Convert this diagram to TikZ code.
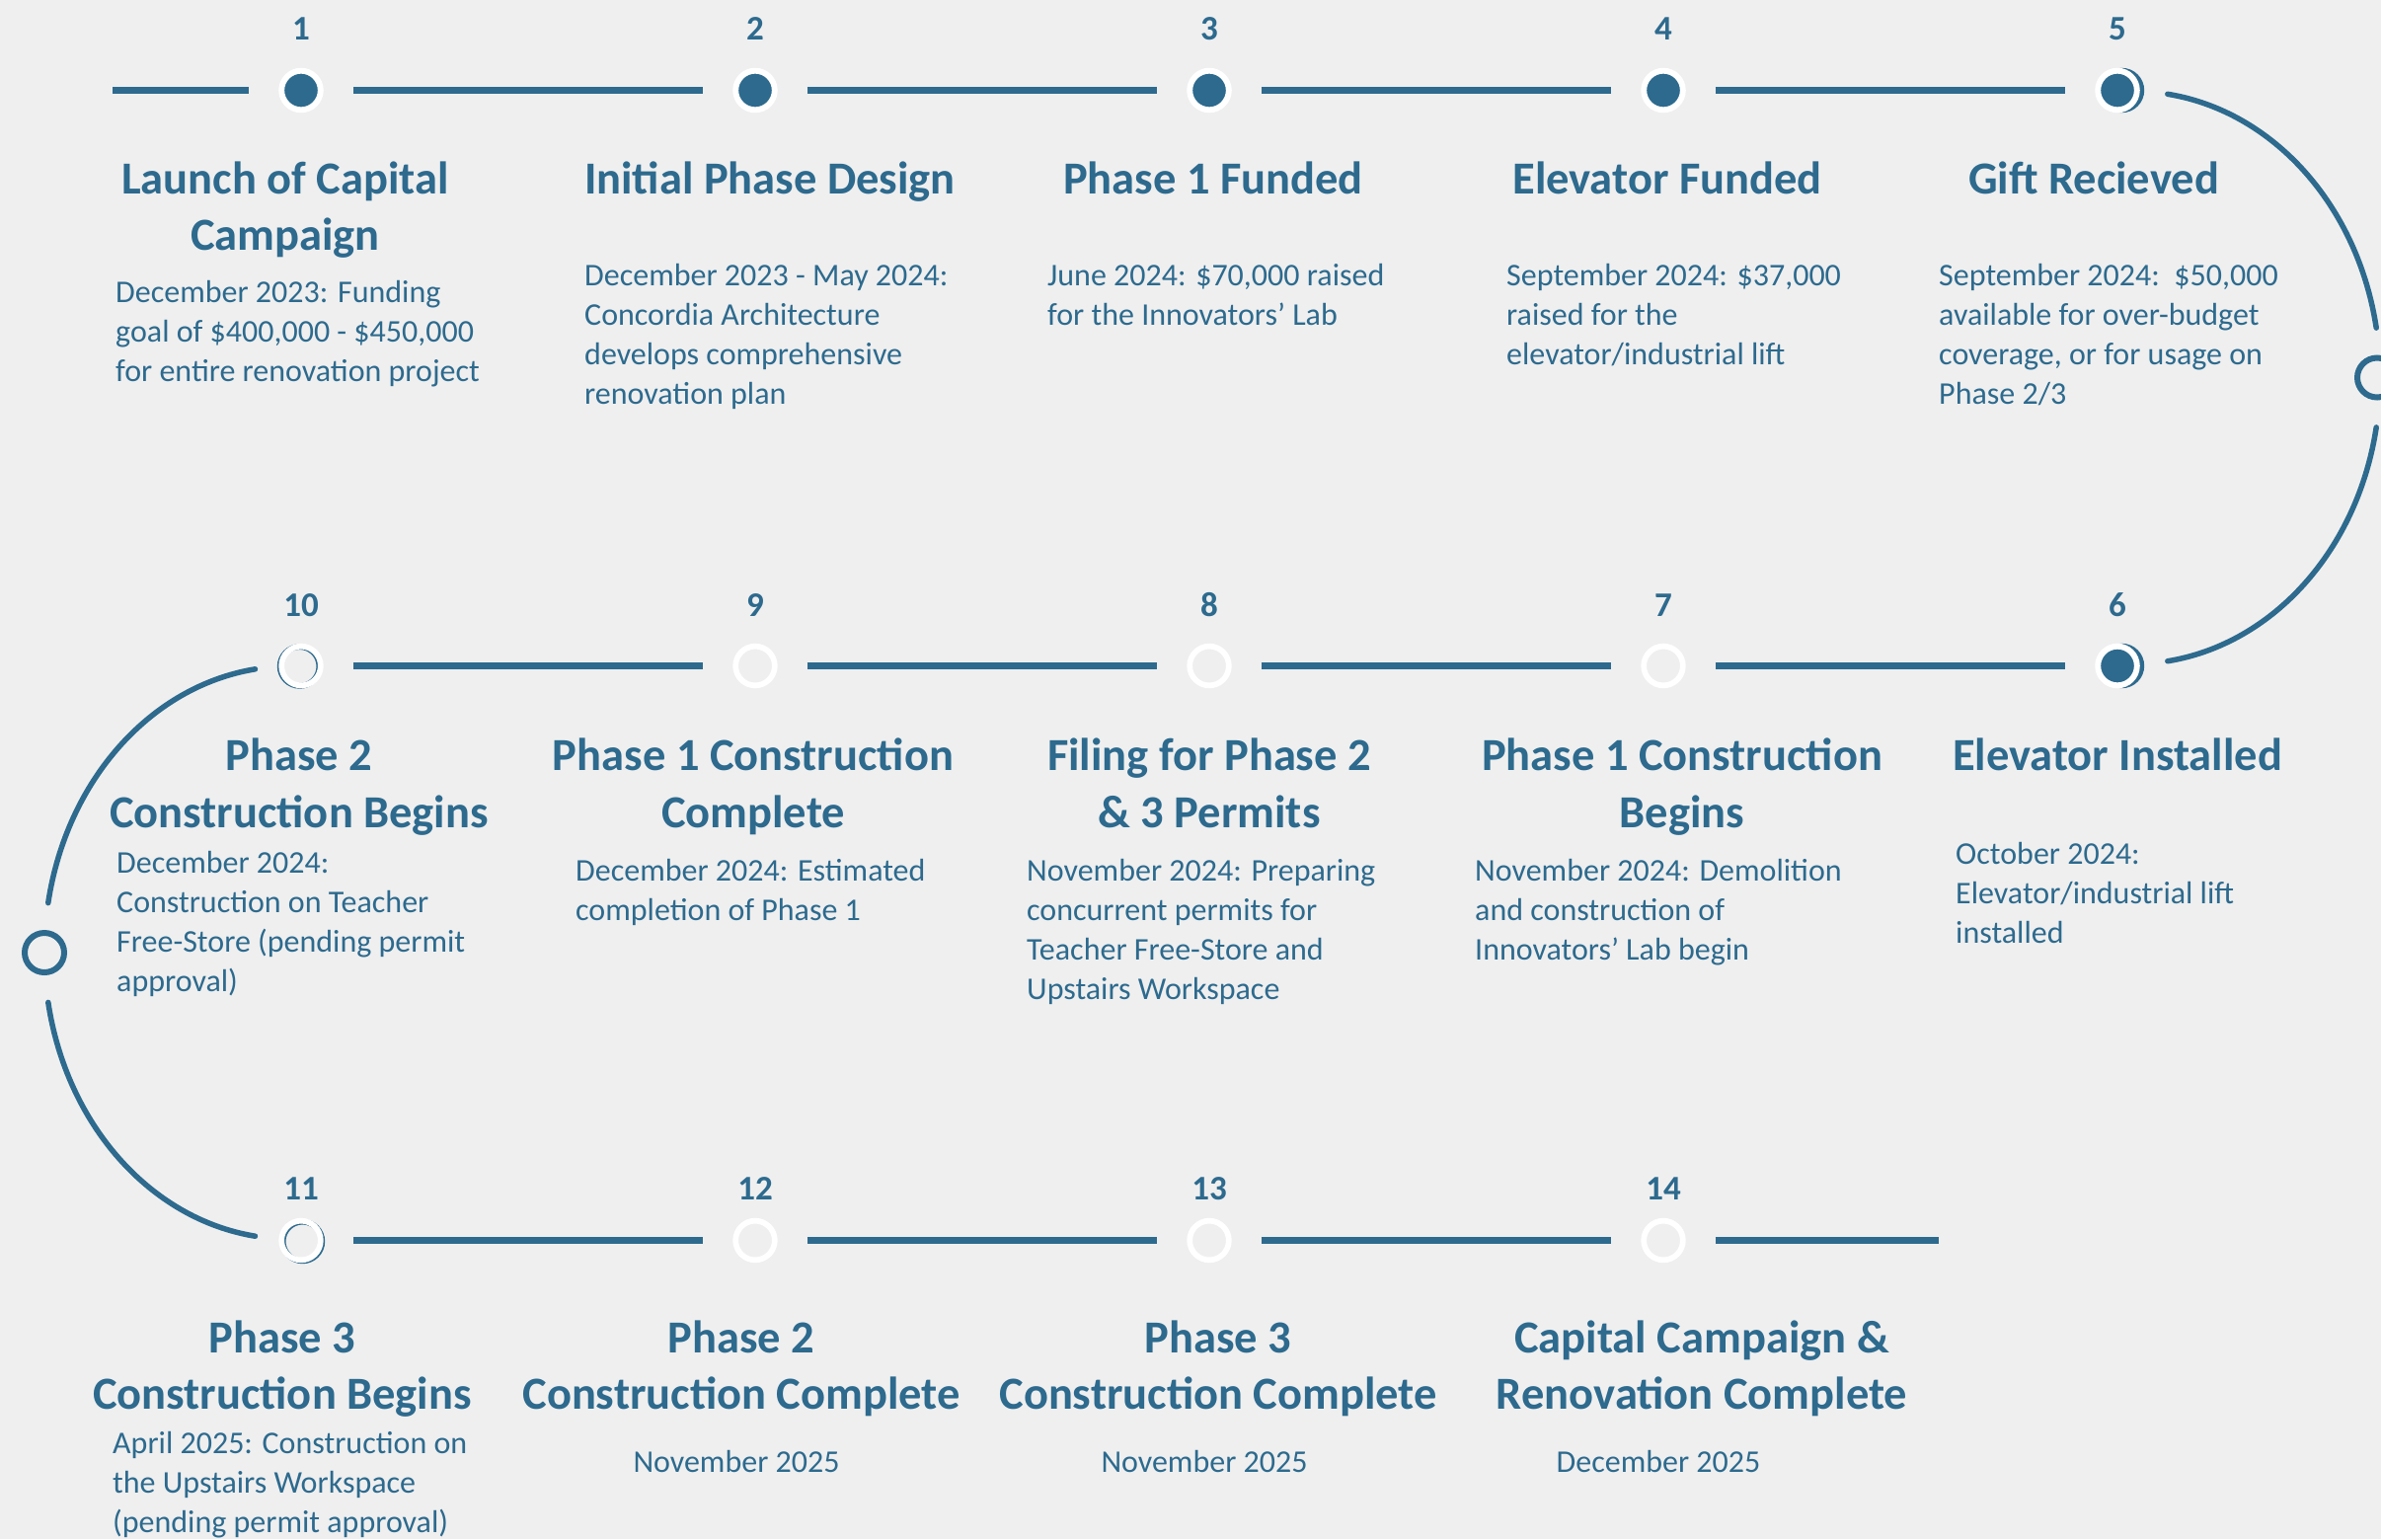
\documentclass[tikz,border=0pt]{standalone}
\usepackage{fontspec}
\setmainfont{Carlito}
\usetikzlibrary{calc}
\definecolor{tl}{RGB}{45,106,142}
\definecolor{bg}{RGB}{239,239,239}
\newcommand\ctext[1]{\vtop{\halign{\hfil##\hfil\cr#1\crcr}}}
\newcommand\ltext[1]{\vtop{\halign{##\hfil\cr#1\crcr}}}
\begin{document}
\begin{tikzpicture}[x=1pt,y=-1pt,
  title/.style={anchor=base, inner sep=0pt, text=tl, font=\fontsize{46.5}{57.5}\selectfont\bfseries},
  body/.style={anchor=base west, inner sep=0pt, text=tl, font=\fontsize{32}{40}\selectfont},
  bodyc/.style={anchor=base, inner sep=0pt, text=tl, font=\fontsize{32}{40}\selectfont},
  num/.style={anchor=base, inner sep=0pt, text=tl, font=\fontsize{35}{40}\selectfont\bfseries},
  done/.style={circle, inner sep=0pt, minimum size=39.6pt, fill=tl, draw=white, line width=5.9pt, outer sep=33pt},
  todo/.style={circle, inner sep=0pt, minimum size=39.7pt, draw=white, line width=5.7pt, outer sep=33pt},
  rowline/.style={draw=tl, line width=6.5pt},
  arcline/.style={draw=tl, line width=5.5pt, line cap=round},
  ring/.style={circle, inner sep=0pt, minimum size=40pt, draw=tl, line width=6pt},
  shadow/.style={fill=tl},
  thinring/.style={draw=tl, line width=5.7pt},
]
\fill[bg] (0,0) rectangle (2412,1559);
\useasboundingbox (0,0) rectangle (2412,1559);

% ---------- row 1 ----------
\fill[shadow] (2149.5,91.5) circle (22.7);
\node[done] (c1) at (305,91.5) {};
\node[done] (c2) at (765,91.5) {};
\node[done] (c3) at (1225,91.5) {};
\node[done] (c4) at (1685,91.5) {};
\node[done] (c5) at (2145,91.5) {};
\coordinate (l0) at (114,91.5);
\draw[rowline] (l0) -- (c1);
\draw[rowline] (c1) -- (c2);
\draw[rowline] (c2) -- (c3);
\draw[rowline] (c3) -- (c4);
\draw[rowline] (c4) -- (c5);

\node[num] (n1) at (305,40.7) {1};
\node[num] (n2) at (765,40.7) {2};
\node[num] (n3) at (1225,40.7) {3};
\node[num] (n4) at (1685,40.7) {4};
\node[num] (n5) at (2145,40.7) {5};

\node[title] (t1) at (289,196) {\ctext{Launch of Capital\cr Campaign}};
\node[title] (t2) at (780,196) {\ctext{Initial Phase Design}};
\node[title] (t3) at (1229,196) {\ctext{Phase 1 Funded}};
\node[title] (t4) at (1689,196) {\ctext{Elevator Funded}};
\node[title] (t5) at (2121,196) {\ctext{Gift Recieved}};

\node[body] (b1) at (117,306.7) {\ltext{December 2023: Funding\cr goal of \$400,000 - \$450,000\cr for entire renovation project}};
\node[body] (b2) at (592,289.5) {\ltext{December 2023 - May 2024:\cr Concordia Architecture\cr develops comprehensive\cr renovation plan}};
\node[body] (b3) at (1061,289.5) {\ltext{June 2024: \$70,000 raised\cr for the Innovators’ Lab}};
\node[body] (b4) at (1526,289.5) {\ltext{September 2024: \$37,000\cr raised for the\cr elevator/industrial lift}};
\node[body] (b5) at (1964,289.5) {\ltext{September 2024:\ \ \$50,000\cr available for over-budget\cr coverage, or for usage on\cr Phase 2/3}};

% ---------- right turn ----------
\node[ring] (rm) at (2408,382.5) {};
\coordinate (ra1) at (2195.8,95.3);
\coordinate (rb1) at (2407.2,432.9);
\draw[arcline] (ra1) arc[start angle=82, end angle=10, x radius=250pt, y radius=290pt];
\draw[arcline] (rb1) arc[start angle=-10, end angle=-82, x radius=250pt, y radius=290pt];

% ---------- row 2 ----------
\fill[shadow] (2149.5,674.5) circle (22.7);
\draw[thinring] (303.5,675) circle (19.85);
\node[todo] (c10) at (305,674.5) {};
\node[todo] (c9) at (765,674.5) {};
\node[todo] (c8) at (1225,674.5) {};
\node[todo] (c7) at (1685,674.5) {};
\node[done] (c6) at (2145,674.5) {};
\draw[rowline] (c10) -- (c9);
\draw[rowline] (c9) -- (c8);
\draw[rowline] (c8) -- (c7);
\draw[rowline] (c7) -- (c6);

\node[num] (n10) at (305,624.5) {10};
\node[num] (n9) at (765,624.5) {9};
\node[num] (n8) at (1225,624.5) {8};
\node[num] (n7) at (1685,624.5) {7};
\node[num] (n6) at (2145,624.5) {6};

\node[title] (t10) at (303,780.5) {\ctext{Phase 2\cr Construction Begins}};
\node[title] (t9) at (763,780.5) {\ctext{Phase 1 Construction\cr Complete}};
\node[title] (t8) at (1225,780.5) {\ctext{Filing for Phase 2\cr \& 3 Permits}};
\node[title] (t7) at (1704,780.5) {\ctext{Phase 1 Construction\cr Begins}};
\node[title] (t6) at (2145,780.5) {\ctext{Elevator Installed}};

\node[body] (b10) at (118,884.8) {\ltext{December 2024:\cr Construction on Teacher\cr Free-Store (pending permit\cr approval)}};
\node[body] (b9) at (583,892.4) {\ltext{December 2024: Estimated\cr completion of Phase 1}};
\node[body] (b8) at (1040,892.4) {\ltext{November 2024: Preparing\cr concurrent permits for\cr Teacher Free-Store and\cr Upstairs Workspace}};
\node[body] (b7) at (1494,892.4) {\ltext{November 2024: Demolition\cr and construction of\cr Innovators’ Lab begin}};
\node[body] (b6) at (1981,875.5) {\ltext{October 2024:\cr Elevator/industrial lift\cr installed}};

% ---------- left turn ----------
\node[ring] (lm) at (45,965) {};
\coordinate (la1) at (258.5,677.8);
\coordinate (lb1) at (48.8,1015.4);
\draw[arcline] (la1) arc[start angle=98, end angle=170, x radius=248pt, y radius=290pt];
\draw[arcline] (lb1) arc[start angle=190, end angle=262, x radius=248pt, y radius=290pt];

% ---------- row 3 ----------
\draw[thinring] (306.5,1257.5) circle (19.85);
\node[todo] (c11) at (305,1256.5) {};
\node[todo] (c12) at (765,1256.5) {};
\node[todo] (c13) at (1225,1256.5) {};
\node[todo] (c14) at (1685,1256.5) {};
\coordinate (e3) at (1964,1256.5);
\draw[rowline] (c11) -- (c12);
\draw[rowline] (c12) -- (c13);
\draw[rowline] (c13) -- (c14);
\draw[rowline] (c14) -- (e3);

\node[num] (n11) at (305,1215) {11};
\node[num] (n12) at (765,1215) {12};
\node[num] (n13) at (1225,1215) {13};
\node[num] (n14) at (1685,1215) {14};

\node[title] (t11) at (286,1370) {\ctext{Phase 3\cr Construction Begins}};
\node[title] (t12) at (751,1370) {\ctext{Phase 2\cr Construction Complete}};
\node[title] (t13) at (1234,1370) {\ctext{Phase 3\cr Construction Complete}};
\node[title] (t14) at (1724,1370) {\ctext{Capital Campaign \&\cr Renovation Complete}};

\node[body] (b11) at (114,1472.5) {\ltext{April 2025: Construction on\cr the Upstairs Workspace\cr (pending permit approval)}};
\node[bodyc] (b12) at (746,1491) {November 2025};
\node[bodyc] (b13) at (1220,1491) {November 2025};
\node[bodyc] (b14) at (1680,1491) {December 2025};
\end{tikzpicture}
\end{document}
